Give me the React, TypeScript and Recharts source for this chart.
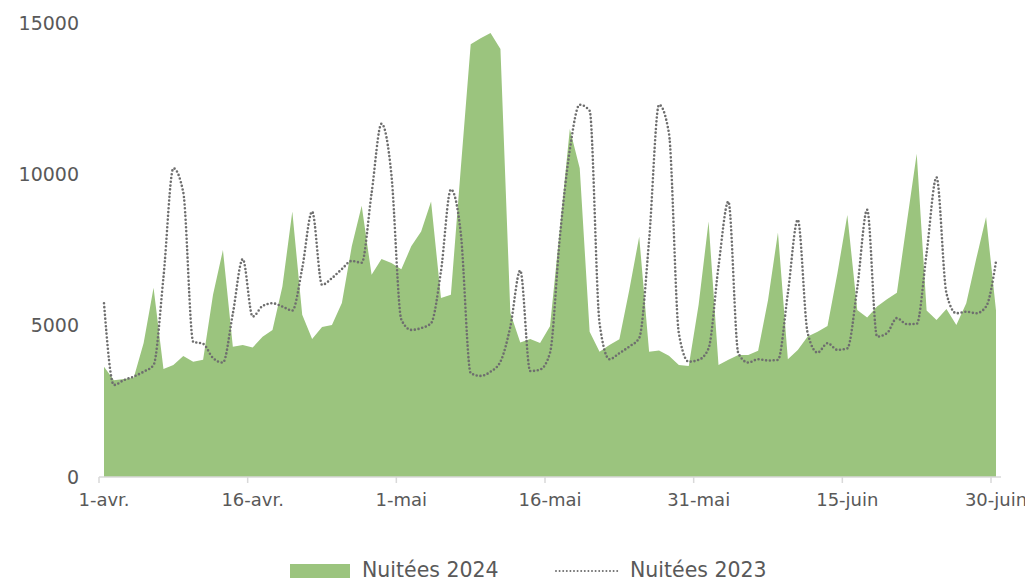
import React from "react";
import { ComposedChart, Area, Line, XAxis, YAxis, Legend } from "recharts";

const monthNames = ["avr.", "mai", "juin"];
const monthDays = [30, 31, 30];

const days: string[] = [];
monthNames.forEach((m, mi) => {
  for (let d = 1; d <= monthDays[mi]; d++) days.push(`${d}-${m}`);
});

const nuitees2024 = [
  3640, 3200, 3240, 3280, 4430, 6250, 3570, 3700, 4000, 3810,
  3870, 6020, 7500, 4300, 4360, 4280, 4630, 4860, 6290, 8770,
  5360, 4560, 4960, 5020, 5750, 7620, 8960, 6680, 7200, 7070,
  6860, 7620, 8110, 9100, 5910, 6020, 10200, 14300, 14500, 14670,
  14140, 5420, 4440, 4560, 4430, 4980, 8200, 11500, 10200, 4800,
  4140, 4360, 4550, 6180, 7940, 4140, 4180, 4010, 3700, 3670,
  5700, 8440, 3700, 3870, 4030, 4030, 4170, 5850, 8080, 3890,
  4200, 4640, 4800, 4990, 6730, 8660, 5520, 5270, 5630, 5870,
  6090, 8400, 10680, 5500, 5190, 5550, 5020, 5740, 7200, 8590,
  5500,
];

const nuitees2023 = [
  5740, 3040, 3200, 3320, 3480, 3700, 6600, 10200, 9400, 4470,
  4400, 3930, 3780, 5400, 7200, 5300, 5650, 5740, 5630, 5500,
  6900, 8770, 6350, 6570, 6870, 7140, 7080, 9380, 11670, 9980,
  5200, 4860, 4920, 5080, 6800, 9500, 8050, 3430, 3340, 3480,
  3810, 4970, 6820, 3500, 3550, 4100, 7940, 10810, 12300, 12100,
  5080, 3890, 4090, 4310, 4590, 7830, 12300, 11360, 4750, 3810,
  3870, 4250, 6950, 9100, 4090, 3780, 3890, 3850, 3870, 6070,
  8500, 4750, 4110, 4420, 4200, 4250, 6240, 8830, 4640, 4750,
  5250, 5050, 5060, 7400, 9900, 6070, 5410, 5460, 5410, 5630,
  7120,
];

const yTicks = [0, 5000, 10000, 15000];
const seriesNames = ["Nuitées 2024", "Nuitées 2023"];

const data = days.map((d, i) => ({ day: d, n2024: nuitees2024[i], n2023: nuitees2023[i] }));

const W = 1025;
const H = 573;
const LEG_H = 28;
const FONT = "'DejaVu Sans', sans-serif";
const TEXT = "#595959";
const GREEN = "#9bc47e";
const DOT = "#6e6e6e";
const AXIS = "#d9d9d9";

const XTick = (props: any) => {
  const { x, y, payload } = props;
  const axisY = y - 8;
  return (
    <g>
      <line x1={x - 5} x2={x - 5} y1={axisY} y2={axisY + 6} stroke={AXIS} strokeWidth={1.5} />
      <text x={x} y={axisY + 29} textAnchor="middle" fill={TEXT} fontSize={18} fontFamily={FONT}>
        {payload.value}
      </text>
    </g>
  );
};

const LegendContent = () => (
  <svg width={W} height={LEG_H} style={{ display: "block" }}>
    <rect x={282} y={11} width={60} height={14} fill={GREEN} />
    <text x={354} y={17} dy="0.35em" fill={TEXT} fontSize={20.5} fontFamily={FONT}>
      {seriesNames[0]}
    </text>
    <line x1={548} x2={612} y1={18} y2={18} stroke={DOT} strokeWidth={2} strokeDasharray="0 3.6" strokeLinecap="round" />
    <text x={622} y={17} dy="0.35em" fill={TEXT} fontSize={20.5} fontFamily={FONT}>
      {seriesNames[1]}
    </text>
  </svg>
);

export default function App() {
  return (
    <div style={{ width: W, height: H }}>
      <ComposedChart width={W} height={H} data={data} margin={{ top: 15, right: 32, left: 0, bottom: 46 }}>
        <XAxis
          dataKey="day"
          scale="point"
          interval={14}
          padding={{ left: 5, right: 5 }}
          height={30}
          axisLine={{ stroke: AXIS, strokeWidth: 1.5 }}
          tickLine={false}
          tick={<XTick />}
        />
        <YAxis
          width={91}
          domain={[0, 15000]}
          ticks={yTicks}
          axisLine={false}
          tickLine={false}
          tickSize={0}
          tickMargin={20}
          tick={{ fill: TEXT, fontSize: 19, fontFamily: FONT }}
        />
        <Area
          type="linear"
          dataKey="n2024"
          name={seriesNames[0]}
          fill={GREEN}
          fillOpacity={1}
          stroke="none"
          isAnimationActive={false}
          dot={false}
          activeDot={false}
        />
        <Line
          type="monotone"
          dataKey="n2023"
          name={seriesNames[1]}
          stroke={DOT}
          strokeWidth={2.6}
          strokeDasharray="0 3.8"
          strokeLinecap="round"
          dot={false}
          activeDot={false}
          isAnimationActive={false}
        />
        <Legend verticalAlign="bottom" wrapperStyle={{ bottom: 0, left: 0, width: W }} content={<LegendContent />} />
      </ComposedChart>
    </div>
  );
}
